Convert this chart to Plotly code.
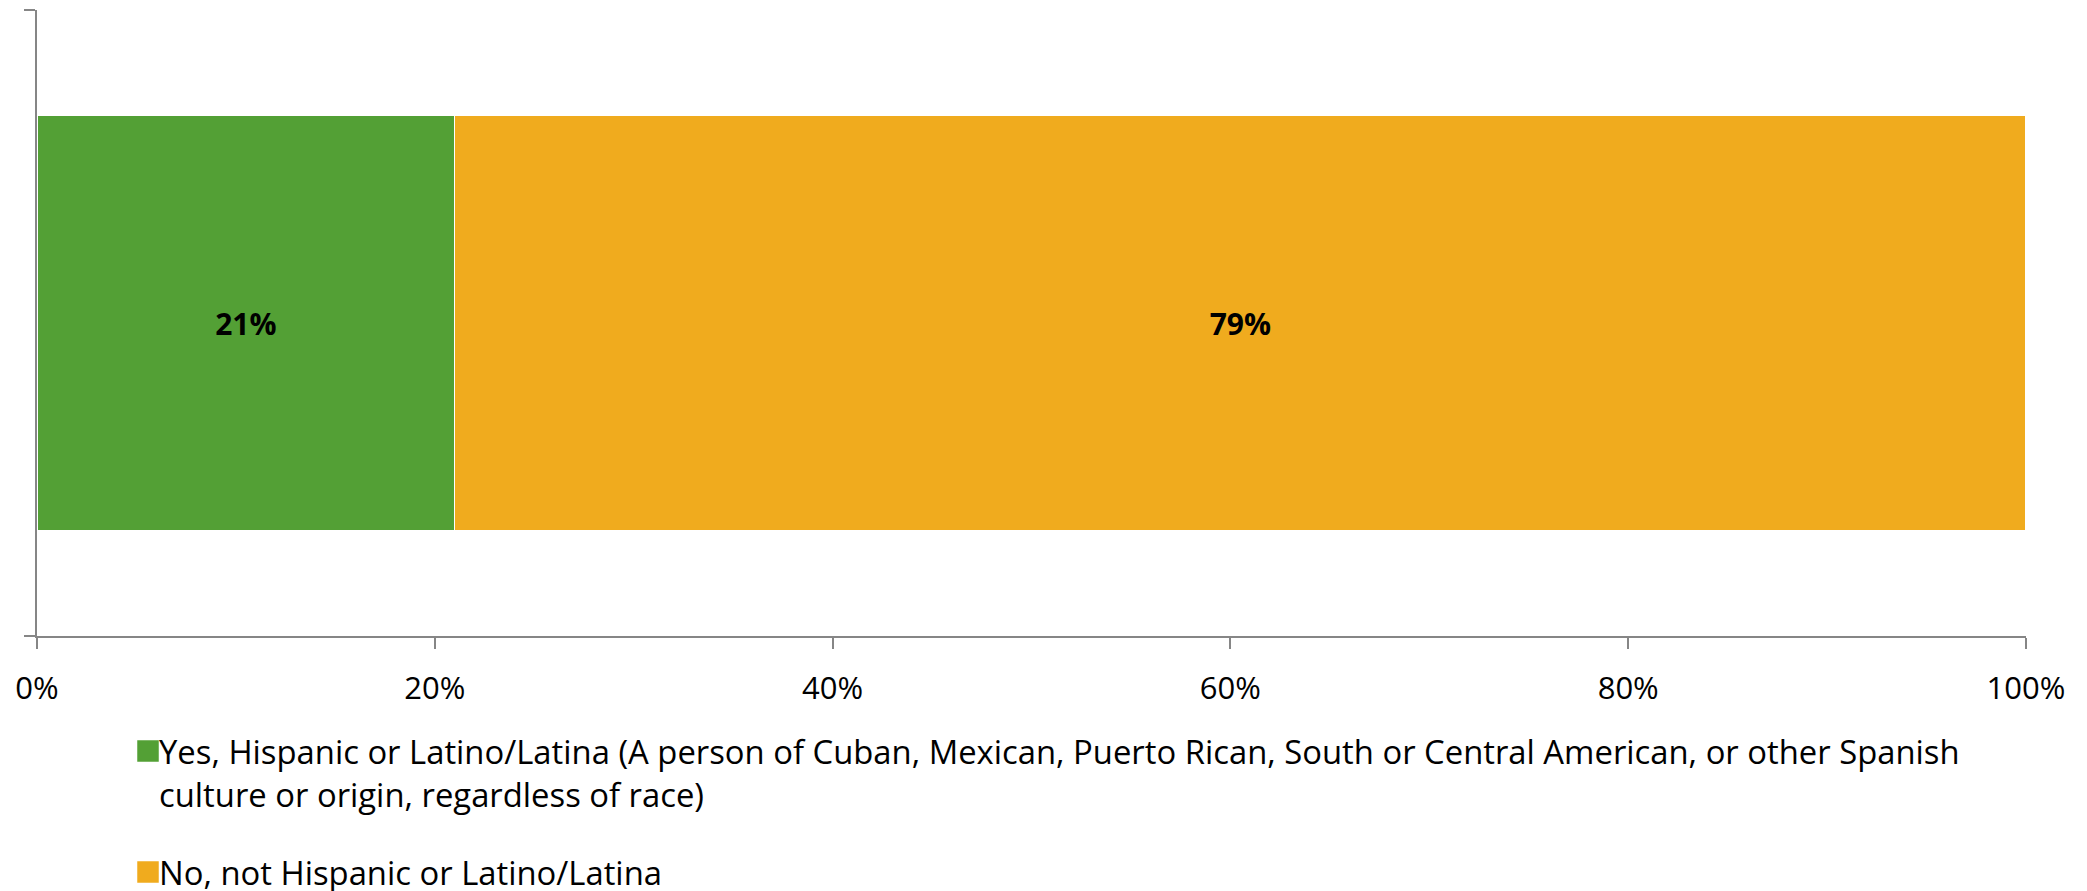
import plotly.graph_objects as go

# ---------------- data ----------------
categories = [0]
series_names = [
    "Yes, Hispanic or Latino/Latina (A person of Cuban, Mexican, Puerto Rican, South or Central American, or other Spanish<br>culture or origin, regardless of race)",
    "No, not Hispanic or Latino/Latina",
]
series_values = [[0.21], [0.79]]
series_colors = ["#53A035", "#F0AB1E"]
x_tick_values = [0, 0.2, 0.4, 0.6, 0.8, 1.0]
x_tick_labels = ["0%", "20%", "40%", "60%", "80%", "100%"]

# ---------------- layout constants ----------------
OFF = 8                      # page body margin
W, H = 2087 - OFF, 891 - OFF
ML, MT = 37 - OFF, 10 - OFF
PR, PB = 2026 - OFF, 636 - OFF   # plot right / bottom (figure px)
MR, MB = W - PR, H - PB
PW = W - ML - MR
PH = H - MT - MB
AXIS_COLOR = "#868686"
FONT = "Open Sans"


def px_x(page_px):
    return (page_px - OFF - ML) / PW


def px_y(page_py):
    return (H - MB - (page_py - OFF)) / PH


fig = go.Figure()
for name, vals, color in zip(series_names, series_values, series_colors):
    fig.add_trace(go.Bar(
        y=categories, x=vals, name=name, orientation="h",
        width=0.663,
        marker=dict(color=color, line=dict(color="white", width=1.5)),
        text=vals, texttemplate="<b>%{x:.0%}</b>",
        textposition="inside", insidetextanchor="middle", textangle=0,
        textfont=dict(family=FONT, size=30, color="black"),
        showlegend=False, hoverinfo="skip",
    ))

# custom legend (Excel-style, below plot)
legend_centers = [751, 872]
line_gap = 43
annotations = []
shapes = []
for name, color, cy in zip(series_names, series_colors, legend_centers):
    shapes.append(dict(
        type="rect", xref="paper", yref="paper",
        x0=px_x(137), x1=px_x(159), y0=px_y(cy + 11), y1=px_y(cy - 11),
        fillcolor=color, line=dict(color="rgba(255,255,255,0.5)", width=1),
    ))
    for k, line in enumerate(name.split("<br>")):
        annotations.append(dict(
            text=line, xref="paper", yref="paper",
            x=px_x(157), y=px_y(cy + k * line_gap),
            xanchor="left", yanchor="middle", showarrow=False,
            font=dict(family=FONT, size=32.8, color="black"),
        ))

fig.update_layout(
    width=W, height=H,
    margin=dict(l=ML, r=MR, t=MT, b=MB, pad=0),
    barmode="stack", bargap=0.337,
    plot_bgcolor="white", paper_bgcolor="white",
    font=dict(family=FONT, color="black"),
    xaxis=dict(
        range=[0, 1], tickvals=x_tick_values, ticktext=x_tick_labels,
        showgrid=False, zeroline=False,
        showline=True, linecolor=AXIS_COLOR, linewidth=2,
        ticks="outside", ticklen=11, tickwidth=2, tickcolor=AXIS_COLOR,
        tickfont=dict(family=FONT, size=31, color="black"),
        ticklabelstandoff=13,
    ),
    yaxis=dict(
        range=[-0.5, 0.5], tickvals=[-0.5, 0.5], ticktext=["", ""],
        showgrid=False, zeroline=False,
        showline=True, linecolor=AXIS_COLOR, linewidth=2,
        ticks="outside", ticklen=11, tickwidth=2, tickcolor=AXIS_COLOR,
    ),
    annotations=annotations, shapes=shapes,
)

fig.write_html("out.html")
